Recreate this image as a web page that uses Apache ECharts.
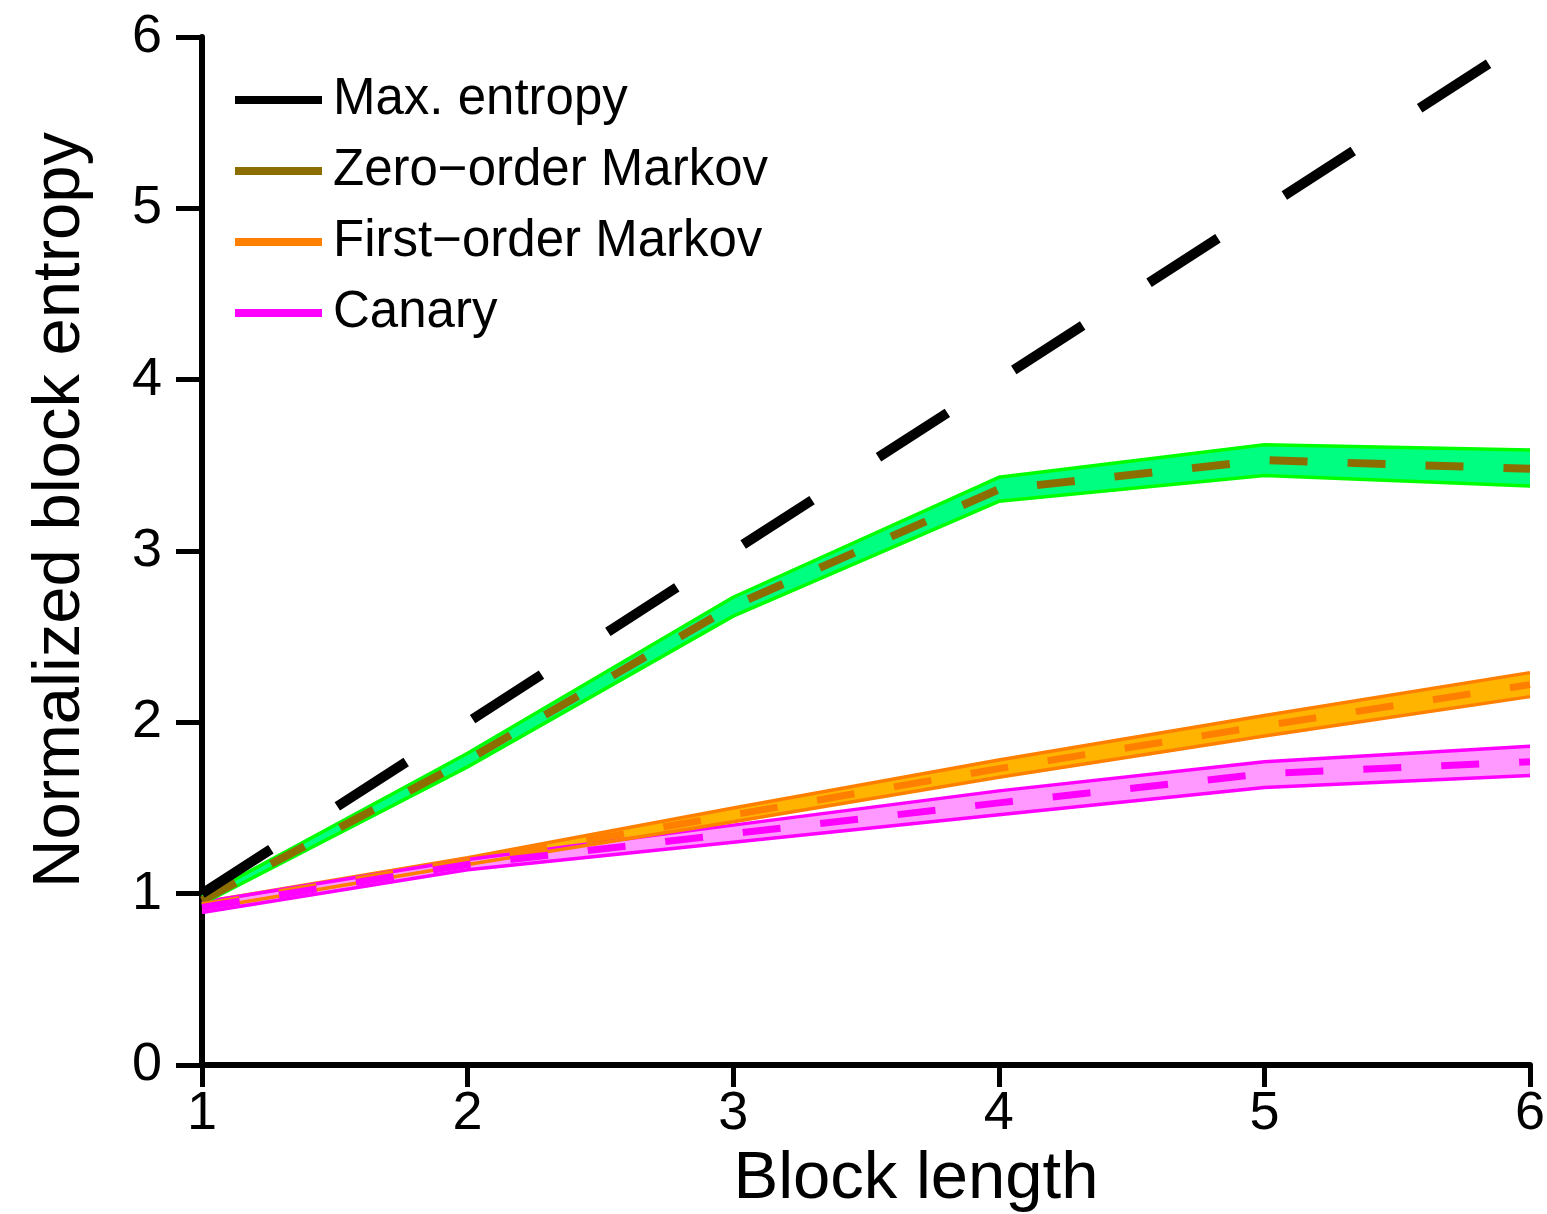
<!DOCTYPE html>
<html>
<head>
<meta charset="utf-8">
<script src="https://cdn.jsdelivr.net/npm/echarts@6/dist/echarts.min.js"></script>
<style>
html,body{margin:0;padding:0;background:#fff;}
#chart{width:1547px;height:1214px;}
</style>
</head>
<body>
<div id="chart"></div>
<script>
// ---- data ----
const blockLength = ['1', '2', '3', '4', '5', '6'];
const yTicks = [0, 1, 2, 3, 4, 5, 6];

const maxEntropy = [1, 2, 3, 4, 5, 6];

const zeroMean = [0.96, 1.78, 2.68, 3.36, 3.53, 3.48];
const zeroLow  = [0.94, 1.74, 2.62, 3.29, 3.44, 3.38];
const zeroHigh = [0.98, 1.82, 2.73, 3.43, 3.62, 3.59];

const firstMean = [0.93, 1.19, 1.46, 1.73, 1.98, 2.22];
const firstLow  = [0.91, 1.17, 1.42, 1.68, 1.92, 2.15];
const firstHigh = [0.95, 1.21, 1.50, 1.78, 2.04, 2.29];

const canaryMean = [0.92, 1.17, 1.35, 1.53, 1.70, 1.77];
const canaryLow  = [0.89, 1.14, 1.30, 1.46, 1.62, 1.69];
const canaryHigh = [0.95, 1.20, 1.40, 1.60, 1.77, 1.86];

const names = ['Max. entropy', 'Zero\u2212order Markov', 'First\u2212order Markov', 'Canary'];

// ---- helpers ----
const diff = (hi, lo) => hi.map((h, i) => +(h - lo[i]).toFixed(4));

function band(id, lo, hi, border, fill) {
  return [
    {
      name: id + '_low', type: 'line', stack: id, data: lo.slice(),
      symbol: 'none', silent: true, z: 3,
      lineStyle: { color: border, width: 3.5 }
    },
    {
      name: id + '_band', type: 'line', stack: id, data: diff(hi, lo),
      symbol: 'none', silent: true, z: 2,
      lineStyle: { color: border, width: 3.5 },
      areaStyle: { color: fill, opacity: 1 }
    }
  ];
}

const FONT = '"Liberation Sans", Arial, sans-serif';

const chart = echarts.init(document.getElementById('chart'), null, { renderer: 'canvas' });

chart.setOption({
  animation: false,
  backgroundColor: '#fff',
  grid: { left: 202, right: 17, top: 37, bottom: 149, containLabel: false, outerBoundsMode: 'none' },
  legend: {
    orient: 'vertical',
    left: 235,
    top: 74,
    padding: 0,
    itemWidth: 87,
    itemHeight: 8,
    itemGap: 19,
    selectedMode: false,
    data: [
      { name: names[0], icon: 'rect', itemStyle: { color: '#000000' } },
      { name: names[1], icon: 'rect', itemStyle: { color: '#8c6e00' } },
      { name: names[2], icon: 'rect', itemStyle: { color: '#ff8000' } },
      { name: names[3], icon: 'rect', itemStyle: { color: '#ff00ff' } }
    ],
    textStyle: { color: '#000', fontSize: 51, fontFamily: FONT, lineHeight: 52, padding: [0, 0, 0, 6] }
  },
  xAxis: {
    type: 'category', data: blockLength, boundaryGap: false,
    name: 'Block length', nameLocation: 'middle', nameGap: 76,
    nameTextStyle: { color: '#000', fontSize: 67, fontFamily: FONT, padding: [0, 0, 0, 100] },
    axisLine: { show: true, onZero: false, lineStyle: { color: '#000', width: 6 } },
    axisTick: { show: true, inside: false, length: 22, lineStyle: { color: '#000', width: 5 } },
    axisLabel: { color: '#000', fontSize: 54, fontFamily: FONT, margin: 22, interval: 0 },
    splitLine: { show: false }
  },
  yAxis: {
    type: 'value', min: 0, max: 6, interval: 1,
    name: 'Normalized block entropy', nameLocation: 'middle', nameGap: 108, nameRotate: 90,
    nameTextStyle: { color: '#000', fontSize: 67, fontFamily: FONT, padding: [0, 0, 0, 82] },
    axisLine: { show: true, onZero: false, lineStyle: { color: '#000', width: 6 } },
    axisTick: { show: true, inside: false, length: 26, lineStyle: { color: '#000', width: 5 } },
    axisLabel: {
      color: '#000', fontSize: 54, fontFamily: FONT, margin: 40,
      formatter: (v) => (yTicks.indexOf(v) >= 0 ? String(v) : '')
    },
    splitLine: { show: false }
  },
  series: [
    ...band('zero', zeroLow, zeroHigh, '#00ff00', '#00ff80'),
    ...band('first', firstLow, firstHigh, '#ff8000', '#ffb400'),
    ...band('canary', canaryLow, canaryHigh, '#ff00ff', '#ff99ff'),
    {
      name: names[1], type: 'line', data: zeroMean, symbol: 'none', z: 5,
      itemStyle: { color: '#8c6e00' },
      lineStyle: { color: '#8c6e00', width: 8, type: [38, 40], cap: 'butt' }
    },
    {
      name: names[2], type: 'line', data: firstMean, symbol: 'none', z: 5,
      itemStyle: { color: '#ff8000' },
      lineStyle: { color: '#ff8000', width: 7, type: [38, 40], cap: 'butt' }
    },
    {
      name: names[3], type: 'line', data: canaryMean, symbol: 'none', z: 5,
      itemStyle: { color: '#ff00ff' },
      lineStyle: { color: '#ff00ff', width: 7, type: [38, 40], cap: 'butt' }
    },
    {
      name: names[0], type: 'line', data: maxEntropy, symbol: 'none', z: 6,
      itemStyle: { color: '#000000' },
      lineStyle: { color: '#000000', width: 10, type: [82, 79], cap: 'butt' }
    }
  ]
});
</script>
</body>
</html>
